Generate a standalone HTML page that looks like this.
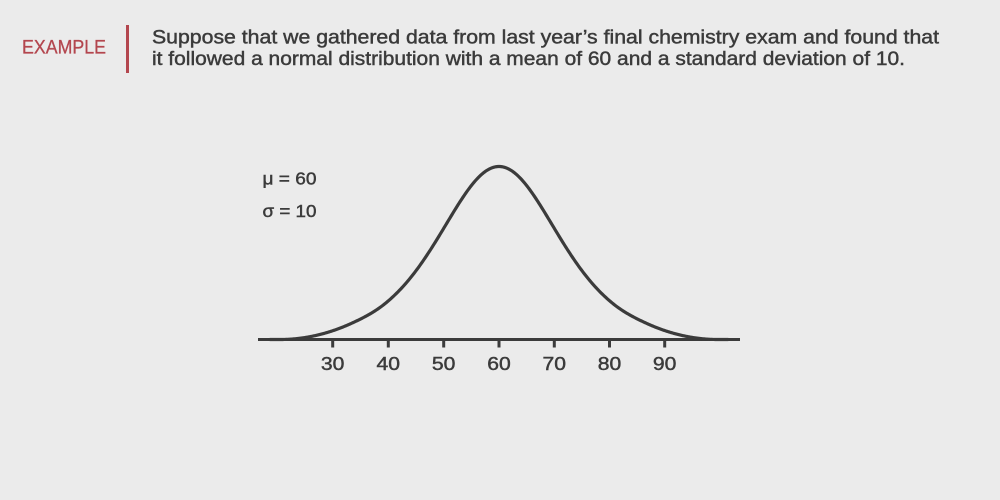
<!DOCTYPE html>
<html>
<head>
<meta charset="utf-8">
<style>
  html, body { margin:0; padding:0; }
  body { width:1000px; height:500px; background:#ebebeb; overflow:hidden; }
  svg { display:block; }
  text { font-family:"Liberation Sans", "DejaVu Sans", sans-serif; fill:#3b3b3b; stroke:#3b3b3b; stroke-width:0.45px; }
</style>
</head>
<body>
<svg width="1000" height="500" viewBox="0 0 1000 500" xmlns="http://www.w3.org/2000/svg">
  <rect x="0" y="0" width="1000" height="500" fill="#ebebeb"/>

  <!-- Header -->
  <text x="22" y="53.3" font-size="19.5" style="fill:#b3464e;stroke:#b3464e;stroke-width:0.3px" textLength="84" lengthAdjust="spacingAndGlyphs">EXAMPLE</text>
  <rect x="126" y="25" width="3" height="48" fill="#b3464e"/>
  <text x="152" y="43.3" font-size="19.5" textLength="787" lengthAdjust="spacingAndGlyphs">Suppose that we gathered data from last year’s final chemistry exam and found that</text>
  <text x="152" y="65" font-size="19.5" textLength="753" lengthAdjust="spacingAndGlyphs">it followed a normal distribution with a mean of 60 and a standard deviation of 10.</text>

  <!-- Parameters -->
  <text x="262.5" y="184.5" font-size="17.5" textLength="54" lengthAdjust="spacingAndGlyphs">μ = 60</text>
  <text x="262.5" y="217" font-size="17.5" textLength="54" lengthAdjust="spacingAndGlyphs">σ = 10</text>

  <!-- Axis -->
  <line x1="258" y1="339.5" x2="740" y2="339.5" stroke="#3b3b3b" stroke-width="3"/>
  <g stroke="#3b3b3b" stroke-width="3">
    <line x1="332.7" y1="339.5" x2="332.7" y2="347.5"/>
    <line x1="388.3" y1="339.5" x2="388.3" y2="347.5"/>
    <line x1="443.7" y1="339.5" x2="443.7" y2="347.5"/>
    <line x1="499" y1="339.5" x2="499" y2="347.5"/>
    <line x1="554.3" y1="339.5" x2="554.3" y2="347.5"/>
    <line x1="609.5" y1="339.5" x2="609.5" y2="347.5"/>
    <line x1="664.7" y1="339.5" x2="664.7" y2="347.5"/>
  </g>
  <g font-size="18" text-anchor="middle">
    <text x="332.7" y="370" textLength="23.5" lengthAdjust="spacingAndGlyphs">30</text>
    <text x="388.3" y="370" textLength="23.5" lengthAdjust="spacingAndGlyphs">40</text>
    <text x="443.7" y="370" textLength="23.5" lengthAdjust="spacingAndGlyphs">50</text>
    <text x="499" y="370" textLength="23.5" lengthAdjust="spacingAndGlyphs">60</text>
    <text x="554.3" y="370" textLength="23.5" lengthAdjust="spacingAndGlyphs">70</text>
    <text x="609.5" y="370" textLength="23.5" lengthAdjust="spacingAndGlyphs">80</text>
    <text x="664.7" y="370" textLength="23.5" lengthAdjust="spacingAndGlyphs">90</text>
  </g>

  <!-- Curve -->
  <path id="curve" fill="none" stroke="#3b3b3b" stroke-width="3.2" stroke-linejoin="round" stroke-linecap="round"
    d="M280,339.5
       L288.86,339.2 L299.92,338.0 L310.98,335.8 L322.04,332.4 L333.1,328.5
       L344.16,325.0 L355.22,321.0 L366.28,316.02 L377.34,309.25 L388.4,300.76
       L399.46,290.33 L410.52,277.76 L421.58,263.02 L432.64,246.35 L443.7,228.36
       L454.76,210.10 L465.82,193.06 L476.88,179.04 L487.94,169.75 L499,166.5
       L510.06,169.75 L521.12,179.04 L532.18,193.06 L543.24,210.10 L554.3,228.36
       L565.36,246.35 L576.42,263.02 L587.48,277.76 L598.54,290.33 L609.6,300.76
       L620.66,309.25 L631.72,316.02 L642.78,321.0 L653.84,325.0 L664.9,328.5
       L675.96,332.4 L687.02,335.8 L698.08,338.0 L709.14,339.2 L718,339.5"/>
</svg>
<script>
(function(){
  var cx=499, s=55.3, base=339.5, H=173, k=0.69, J=2.4;
  function cosh(u){ return (Math.exp(u)+Math.exp(-u))/2; }
  function sech2(u){ var c=cosh(u); return 1/(c*c); }
  function tanh(u){ var a=Math.exp(u), b=Math.exp(-u); return (a-b)/(a+b); }
  var hJ=H*sech2(k*J);
  var slope=2*k*hJ*tanh(k*J);
  var span=2*hJ/slope;
  var E=J+span;
  var c=hJ/(span*span);
  function f1(a){ return H*sech2(k*a); }
  function f2(a){ return a>=E ? 0 : c*(E-a)*(E-a); }
  function h(d){
    var a=Math.abs(d);
    var lo=1.9, hi=2.9;
    if(a<=lo) return f1(a);
    if(a>=hi) return f2(a);
    var t=(a-lo)/(hi-lo);
    var w=t*t*(3-2*t);
    return f1(a)*(1-w)+f2(a)*w;
  }
  var pts=[];
  for(var x=270; x<=728; x+=1){
    var d=(x-cx)/s;
    pts.push(x.toFixed(1)+","+(base-h(d)).toFixed(2));
  }
  document.getElementById("curve").setAttribute("d","M"+pts.join(" L"));
})();
</script>
</body>
</html>
